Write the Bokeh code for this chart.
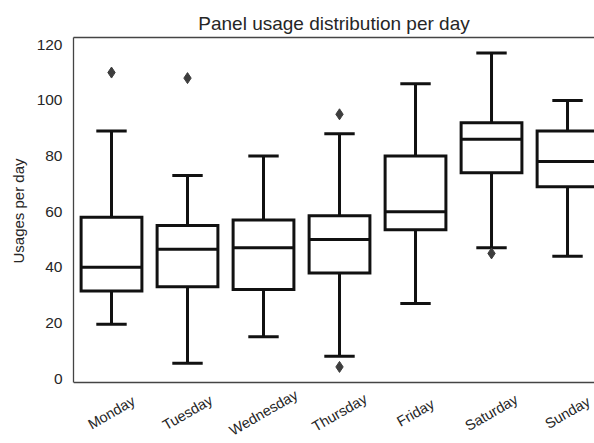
import math
from bokeh.plotting import figure
from bokeh.layouts import column
from bokeh.models import Range1d, FixedTicker, LinearAxis, LabelSet, ColumnDataSource, Span
from bokeh.core.properties import value
from bokeh.embed import file_html
from bokeh.resources import INLINE

# ---- data ----
days = ["Monday", "Tuesday", "Wednesday", "Thursday", "Friday", "Saturday", "Sunday"]
whisker_low = [19.5, 5.5, 15.0, 8.0, 27.0, 47.0, 44.0]
q1 = [31.5, 33.0, 32.0, 38.0, 53.5, 74.0, 69.0]
median = [40.0, 46.5, 47.0, 50.0, 60.0, 86.0, 78.0]
q3 = [58.0, 55.0, 57.0, 58.5, 80.0, 92.0, 89.0]
whisker_high = [89.0, 73.0, 80.0, 88.0, 106.0, 117.0, 100.0]
outlier_days = ["Monday", "Tuesday", "Thursday", "Thursday", "Saturday"]
outlier_values = [110.0, 108.0, 95.0, 4.2, 45.0]
y_ticks = [0, 20, 40, 60, 80, 100, 120]

# ---- styling ----
FONT = "Liberation Sans"
TEXT = "#262626"
SPINE = "#444444"
LINE = "#111111"
box_half = 0.4
cap_half = 0.2
y_start, y_end = -1.4, 122.6     # axes (spine) extent
y_low = -2.12                    # a hair of room so the bottom spine is not clipped

x = list(range(len(days)))
src = ColumnDataSource(dict(
    x=x,
    left=[i - box_half for i in x],
    right=[i + box_half for i in x],
    cap_l=[i - cap_half for i in x],
    cap_r=[i + cap_half for i in x],
    lo=whisker_low, q1=q1, med=median, q3=q3, hi=whisker_high,
))

xr = Range1d(-0.5, 6.355)

p = figure(width=594, height=388,
           x_range=xr, y_range=Range1d(y_low, y_end),
           output_backend="svg", toolbar_location=None,
           x_axis_location=None,
           min_border_left=73, min_border_right=0,
           min_border_top=37, min_border_bottom=4,
           title="Panel usage distribution per day",
           outline_line_color=None,
           background_fill_color="white", border_fill_color="white")
p.grid.visible = False

p.title.text_font = FONT
p.title.text_font_size = "19px"
p.title.text_font_style = "normal"
p.title.text_color = TEXT
p.title.align = "center"
p.title.offset = 5
p.title.standoff = 7

# y axis
ya = p.yaxis[0]
ya.ticker = FixedTicker(ticks=y_ticks)
ya.bounds = (y_start, y_end)
ya.major_tick_line_color = None
ya.minor_tick_line_color = None
ya.major_tick_out = 0
ya.major_tick_in = 0
ya.major_label_standoff = 11
ya.major_label_text_font = FONT
ya.major_label_text_font_size = "15.5px"
ya.major_label_text_color = TEXT
ya.axis_label = "Usages per day"
ya.axis_label_text_font = FONT
ya.axis_label_text_font_size = "15px"
ya.axis_label_text_font_style = "normal"
ya.axis_label_text_color = TEXT
ya.axis_label_standoff = 7
ya.axis_line_color = SPINE
ya.axis_line_width = 1.3

# top spine
top = LinearAxis(ticker=FixedTicker(ticks=[]), major_label_text_font_size="0px",
                 major_tick_line_color=None, minor_tick_line_color=None,
                 major_tick_out=0, major_label_standoff=0,
                 axis_line_color=SPINE, axis_line_width=1.3)
p.add_layout(top, "above")

# bottom spine
p.add_layout(Span(location=y_start, dimension="width", line_color=SPINE, line_width=1.3))

# whiskers
p.segment(x0="x", y0="q3", x1="x", y1="hi", source=src, line_color=LINE, line_width=3)
p.segment(x0="x", y0="q1", x1="x", y1="lo", source=src, line_color=LINE, line_width=3)
# caps
p.segment(x0="cap_l", y0="hi", x1="cap_r", y1="hi", source=src, line_color=LINE, line_width=3)
p.segment(x0="cap_l", y0="lo", x1="cap_r", y1="lo", source=src, line_color=LINE, line_width=3)
# boxes
p.quad(left="left", right="right", bottom="q1", top="q3", source=src,
       fill_color="white", line_color=LINE, line_width=3, line_join="miter")
# medians
p.segment(x0="left", y0="med", x1="right", y1="med", source=src, line_color=LINE, line_width=3)

# outliers
ox = [days.index(d) for d in outlier_days]
p.scatter(x=ox, y=outlier_values, marker="diamond", size=11,
          fill_color="#3d3d3d", line_color="#3d3d3d")

# strip below the axes holding the rotated, centred category labels
q = figure(width=594, height=55, x_range=xr, y_range=Range1d(0, 1),
           output_backend="svg", toolbar_location=None,
           x_axis_location=None, y_axis_location=None,
           min_border_left=73, min_border_right=0,
           min_border_top=0, min_border_bottom=0,
           outline_line_color=None,
           background_fill_color="white", border_fill_color="white")
q.grid.visible = False
lab_src = ColumnDataSource(dict(x=x, y=[1] * len(days), text=days))
labels = LabelSet(x="x", y="y", text="text", source=lab_src,
                  angle=math.pi / 6, text_align="center", text_baseline="middle",
                  y_offset=-24, text_font=value(FONT), text_font_size=value("14.5px"),
                  text_color=TEXT)
q.add_layout(labels)

layout = column(p, q, spacing=0)
open("out.html", "w").write(file_html(layout, INLINE))
